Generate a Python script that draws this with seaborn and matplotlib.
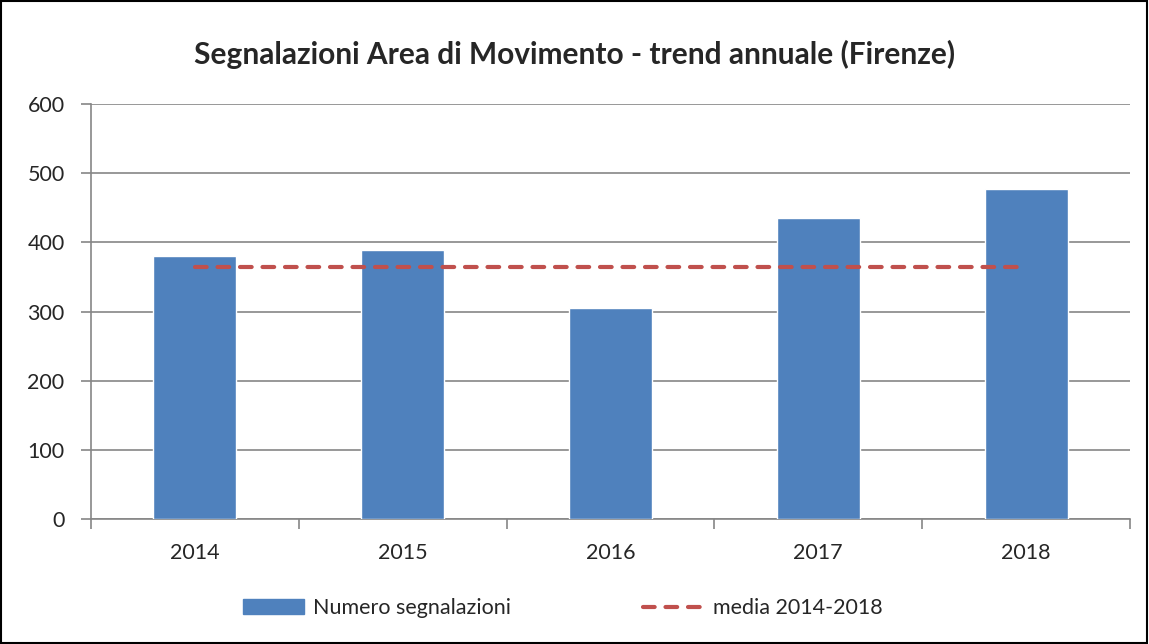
import numpy as np
import matplotlib
matplotlib.use("Agg")
import matplotlib.pyplot as plt
import matplotlib.patches as mpatches
from matplotlib.lines import Line2D
import seaborn as sns

# data
anni = ['2014', '2015', '2016', '2017', '2018']
segnalazioni = [380, 389, 305, 435, 477]
media = [364, 364, 364, 364, 364]
y_ticks = [0, 100, 200, 300, 400, 500, 600]

sns.set_theme(style='white')
plt.rcParams['font.family'] = ['Lato', 'DejaVu Sans']

bar_col = '#4F81BD'
line_col = '#C0504D'
grid_col = '#868686'

fig = plt.figure(figsize=(11.49, 6.44), dpi=100)
ax = fig.add_axes([91/1149, 1 - 519/644, (1130 - 91)/1149, (519 - 104)/644])

sns.barplot(x=anni, y=segnalazioni, color=bar_col, saturation=1,
            width=0.4, ax=ax, zorder=3)
sns.lineplot(x=np.arange(len(anni)), y=media, color=line_col, lw=3,
             ax=ax, zorder=4)
ln = ax.lines[-1]
ln.set_dashes((2.8, 2.6))
ln.set_dash_capstyle('round')

ax.set_xlim(-0.5, len(anni) - 0.5)
ax.set_ylim(0, 600)
ax.set_yticks(y_ticks)
ax.set_yticklabels([str(v) for v in y_ticks], fontsize=15.5)
ax.set_xticks(range(len(anni)))
ax.set_xticklabels(anni, fontsize=15.5)
ax.set_xticks(np.arange(-0.5, len(anni)), minor=True)
ax.tick_params(axis='x', which='major', length=0, pad=17)
ax.tick_params(axis='x', which='minor', length=7, width=1.2, color=grid_col,
               direction='out', bottom=True)
ax.tick_params(axis='y', length=7, width=1.2, color=grid_col, direction='out',
               left=True, pad=12)
ax.set_xlabel('')
ax.set_ylabel('')

ax.grid(axis='y', color=grid_col, lw=1.2, zorder=0)
ax.set_axisbelow(True)
for s in ['top', 'right']:
    ax.spines[s].set_visible(False)
for s in ['left', 'bottom']:
    ax.spines[s].set_color(grid_col)
    ax.spines[s].set_linewidth(1.2)

fig.text(0.5, 1 - 54/644, 'Segnalazioni Area di Movimento - trend annuale (Firenze)',
         ha='center', va='center', fontsize=21.5, fontweight='bold')

handles = [mpatches.Patch(color=bar_col, label='Numero segnalazioni'),
           Line2D([0], [0], color=line_col, lw=3, dashes=(2.8, 2.6),
                  dash_capstyle='round', label='media 2014-2018')]
ax.legend(handles=handles, loc='center', bbox_to_anchor=(0.454, -0.215),
          ncol=2, frameon=False, fontsize=15.5, handlelength=2.8,
          handleheight=0.7, columnspacing=6.1, handletextpad=0.45)

fig.patches.append(mpatches.Rectangle((0.001, 0.002), 0.997, 0.996,
                                      transform=fig.transFigure, fill=False,
                                      edgecolor='black', lw=1.5))

fig.savefig('out.png', dpi=100)
